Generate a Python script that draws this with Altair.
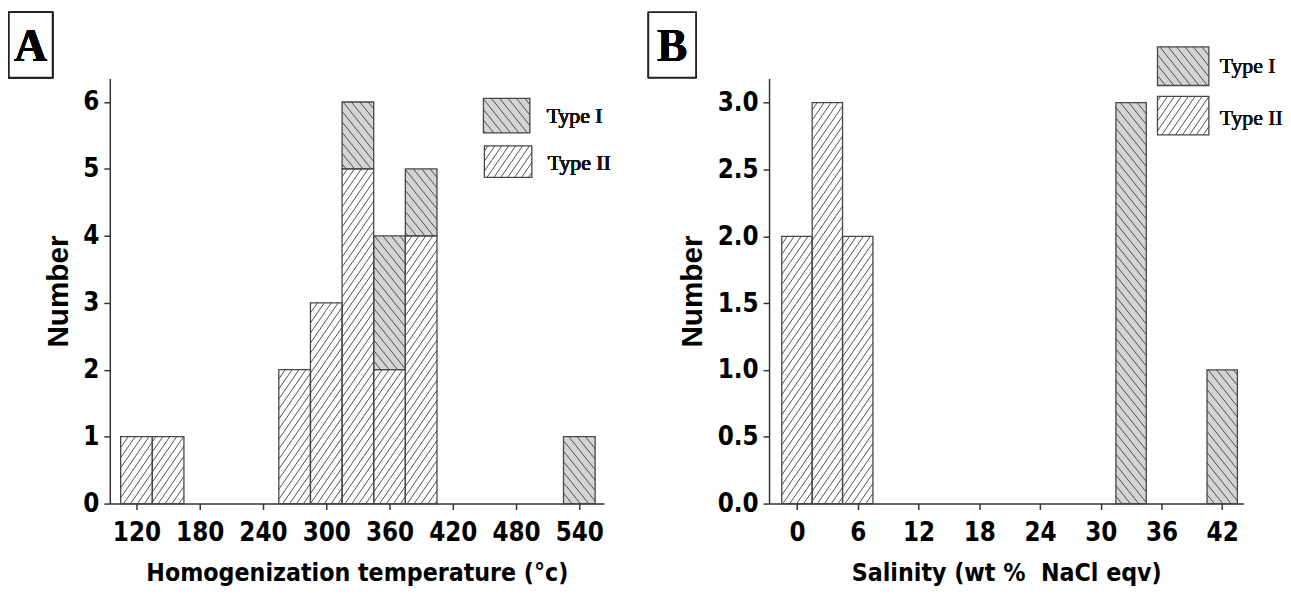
import math
import altair as alt
import pandas as pd

# ---------------- data ----------------
# Panel A: homogenization temperature histogram (bin width 30 °C)
a_bin_lo = [105, 135, 255, 285, 315, 345, 375, 525]
a_bin_w = 30
a_type2 = [1, 1, 2, 3, 5, 2, 4, 0]
a_type1 = [0, 0, 0, 0, 1, 2, 1, 1]
a_xticks = [120, 180, 240, 300, 360, 420, 480, 540]
a_yticks = [0, 1, 2, 3, 4, 5, 6]

# Panel B: salinity histogram (bin width 3 wt%)
b_bin_lo = [-1.5, 1.5, 4.5, 31.5, 40.5]
b_bin_w = 3
b_type2 = [2, 3, 2, 0, 0]
b_type1 = [0, 0, 0, 3, 1]
b_xticks = [0, 6, 12, 18, 24, 30, 36, 42]
b_yticks = [0.0, 0.5, 1.0, 1.5, 2.0, 2.5, 3.0]

types = ["Type I", "Type II"]

NARROW = "Liberation Sans Narrow, DejaVu Sans Condensed, Arial Narrow, sans-serif"
SERIF = "Liberation Serif, Times New Roman, serif"
INK = "#3c3c3c"
GRAY = "#d4d4d4"


def hatch(u0, u1, v0, v1, sp, m, forward):
    """Hatch segments in pixel-proportional space (v upward)."""
    segs = []
    if forward:
        tmin, tmax = u0 - v1 / m, u1
    else:
        tmin, tmax = u0, u1 + v1 / m
    for k in range(math.floor(tmin / sp) - 1, math.ceil(tmax / sp) + 2):
        t = k * sp
        if forward:
            lo = max(v0, m * (u0 - t)); hi = min(v1, m * (u1 - t))
            if hi - lo > 0.3:
                segs.append((t + lo / m, lo, t + hi / m, hi))
        else:
            lo = max(v0, m * (t - u1)); hi = min(v1, m * (t - u0))
            if hi - lo > 0.3:
                segs.append((t - lo / m, lo, t - hi / m, hi))
    return segs


def panel(bin_lo, bw, t2, t1, xdom, ydom, W, H, xticks, yticks, yfmt, xtitle,
          letter, box, leg):
    kx = W / (xdom[1] - xdom[0])
    ky = H / (ydom[1] - ydom[0])
    to_u = lambda x: (x - xdom[0]) * kx
    to_v = lambda y: (y - ydom[0]) * ky
    from_u = lambda u: u / kx + xdom[0]
    from_v = lambda v: v / ky + ydom[0]

    bars = []
    for lo, c2, c1 in zip(bin_lo, t2, t1):
        if c2 > 0:
            bars.append(dict(x=lo, x2=lo + bw, y=0, y2=c2, type="Type II"))
        if c1 > 0:
            bars.append(dict(x=lo, x2=lo + bw, y=c2, y2=c2 + c1, type="Type I"))
    bars = pd.DataFrame(bars)

    # legend swatches (pixel positions relative to plot area, converted to data)
    sw = []
    for (px0, px1, py0, py1), tp in zip(leg["boxes"], types):
        sw.append(dict(x=from_u(px0), x2=from_u(px1), y=from_v(H - py1),
                       y2=from_v(H - py0), type=tp))
    sw = pd.DataFrame(sw)

    allrects = pd.concat([bars, sw], ignore_index=True)
    lines = []
    for r in allrects.itertuples():
        forward = r.type == "Type II"
        sp = 7.0 if forward else 8.5
        m = 1.45 if forward else 1.25
        for (a, b, c, d) in hatch(to_u(r.x), to_u(r.x2), to_v(r.y), to_v(r.y2), sp, m, forward):
            lines.append(dict(x=from_u(a), y=from_v(b), x2=from_u(c), y2=from_v(d)))
    lines = pd.DataFrame(lines)

    X = alt.X("x:Q", scale=alt.Scale(domain=xdom, nice=False, zero=False),
              axis=alt.Axis(values=xticks, title=xtitle, labelOverlap=False,
                            labelPadding=10, titlePadding=16, labelFlush=False))
    Y = alt.Y("y:Q", scale=alt.Scale(domain=ydom, nice=False, zero=True),
              axis=alt.Axis(values=yticks, title="Number", format=yfmt,
                            labelOverlap=False, labelPadding=5, titlePadding=10,
                            titleFont="Liberation Sans, Arial, sans-serif",
                            titleFontSize=30, titleFontWeight="bold"))
    fill = alt.Fill("type:N", scale=alt.Scale(domain=types, range=[GRAY, "#ffffff"]),
                    legend=None)

    fills = alt.Chart(allrects).mark_rect(strokeWidth=0).encode(
        x=X, x2="x2:Q", y=Y, y2="y2:Q", fill=fill)
    hl = alt.Chart(lines).mark_rule(color=INK, strokeWidth=0.9).encode(
        x=X, x2="x2:Q", y=Y, y2="y2:Q")
    outl = alt.Chart(allrects).mark_rect(filled=False, stroke="#474747",
                                         strokeWidth=1.3).encode(
        x=X, x2="x2:Q", y=Y, y2="y2:Q")

    labs = []
    for (lx, ly), tp in zip(leg["labels"], types):
        labs.append(alt.Chart(bars).mark_text(
            align="left", baseline="middle", font=SERIF, fontSize=22,
            fontWeight="normal", color="#111").encode(
            x=alt.value(lx), y=alt.value(ly), text=alt.value(tp)))

    bx0, bx1, by0, by1 = box
    boxm = alt.Chart(bars).mark_rect(fill="white", stroke="#222",
                                     strokeWidth=1.5).encode(
        x=alt.value(bx0), x2=alt.value(bx1), y=alt.value(by0), y2=alt.value(by1))
    letm = alt.Chart(bars).mark_text(
        font=SERIF, fontSize=46, fontWeight="bold", color="black",
        align="center", baseline="middle", dy=2).encode(
        x=alt.value((bx0 + bx1) / 2), y=alt.value((by0 + by1) / 2),
        text=alt.value(letter))

    return alt.layer(fills, hl, outl, *labs, boxm, letm).properties(width=W, height=H)


A = panel(a_bin_lo, a_bin_w, a_type2, a_type1, [94.7, 563.4], [0, 6.35], 500, 430,
          a_xticks, a_yticks, "d", "Homogenization temperature (°c)", "A",
          (-102, -58, -67, -1),
          dict(boxes=[(378, 425, 20, 55), (379, 427, 68, 100)],
               labels=[(442, 38), (443, 85)]))

B = panel(b_bin_lo, b_bin_w, b_type2, b_type1, [-2.76, 44.1], [0, 3.18], 480, 430,
          b_xticks, b_yticks, ".1f", "Salinity (wt %\u00a0 NaCl eqv)", "B",
          (-122, -74, -67, -1),
          dict(boxes=[(393, 445, -32, 7), (393, 445, 18, 57)],
               labels=[(456, -13), (456, 40)]))

chart = alt.hconcat(A, B, spacing=37).properties(padding=0).configure_view(
    stroke=None).configure_axis(
    grid=False, domainColor="#333", domainWidth=1.5, tickColor="#333",
    tickWidth=1.5, tickSize=6, labelFont=NARROW, labelFontSize=26,
    labelFontWeight="bold", labelColor="black", titleFont=NARROW,
    titleFontSize=25, titleFontWeight="bold", titleColor="black")

chart.save("out.html", embed_options={"renderer": "svg", "actions": False})
